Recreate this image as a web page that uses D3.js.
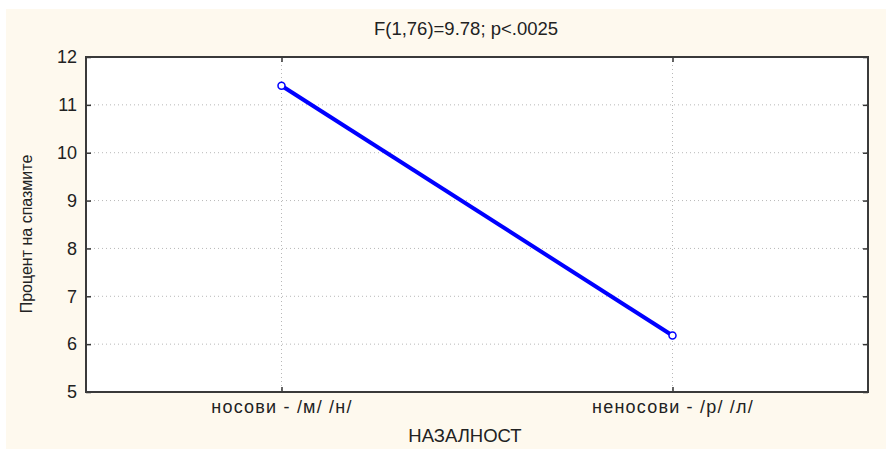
<!DOCTYPE html>
<html>
<head>
<meta charset="utf-8">
<script src="https://cdn.jsdelivr.net/npm/d3@7"></script>
<style>
  body { margin: 0; background: #fff; }
  text { font-family: "Liberation Sans", Arial, sans-serif; fill: #222; }
</style>
</head>
<body>
<div id="my_dataviz"></div>
<script>
// data
var categories = ["носови - /м/ /н/", "неносови - /р/ /л/"];
var values = [11.4, 6.18];
var yTicks = [5, 6, 7, 8, 9, 10, 11, 12];
var title = "F(1,76)=9.78; p<.0025";
var xTitle = "НАЗАЛНОСТ";
var yTitle = "Процент на спазмите";

var W = 886, H = 449;
var margin = {top: 57, right: 18, bottom: 57, left: 86},
    width = W - margin.left - margin.right,
    height = H - margin.top - margin.bottom;

var root = d3.select("#my_dataviz")
  .append("svg")
    .attr("width", W)
    .attr("height", H);

// cream panel behind everything
root.append("rect")
  .attr("x", 6).attr("y", 9)
  .attr("width", W - 6).attr("height", H - 9)
  .attr("fill", "#fef9ee");

var svg = root.append("g")
  .attr("transform", "translate(" + margin.left + "," + margin.top + ")");

svg.append("rect")
  .attr("width", width).attr("height", height)
  .attr("fill", "#fff");

var x = d3.scalePoint()
  .domain(categories)
  .range([0, width])
  .padding(0.5);

var y = d3.scaleLinear()
  .domain([5, 12])
  .range([height, 0]);

// grid
svg.append("g")
  .selectAll("line.hg")
  .data(yTicks.slice(1, -1))
  .enter().append("line")
    .attr("x1", 0).attr("x2", width)
    .attr("y1", function(d) { return y(d); })
    .attr("y2", function(d) { return y(d); })
    .attr("stroke", "#b8b8b8")
    .attr("stroke-dasharray", "1,3");

svg.append("g")
  .selectAll("line.vg")
  .data(categories)
  .enter().append("line")
    .attr("x1", function(d) { return x(d); })
    .attr("x2", function(d) { return x(d); })
    .attr("y1", 0).attr("y2", height)
    .attr("stroke", "#b8b8b8")
    .attr("stroke-dasharray", "1,3");

// axes, ticks pointing inward
var yAxis = svg.append("g")
  .call(d3.axisLeft(y).tickValues(yTicks).tickFormat(d3.format("d")).tickSize(-5).tickPadding(9));
var yAxisR = svg.append("g")
  .attr("transform", "translate(" + width + ",0)")
  .call(d3.axisRight(y).tickValues(yTicks).tickSize(-5).tickFormat(""));
var xAxis = svg.append("g")
  .attr("transform", "translate(0," + height + ")")
  .call(d3.axisBottom(x).tickSize(-5).tickPadding(8));
var xAxisT = svg.append("g")
  .call(d3.axisTop(x).tickSize(-5).tickFormat(""));

[yAxis, yAxisR, xAxis, xAxisT].forEach(function(g) {
  g.select(".domain").remove();
  g.selectAll("line").attr("stroke", "#333").attr("stroke-width", 1.5);
  g.selectAll("text")
    .style("font-family", "'Liberation Sans', Arial, sans-serif")
    .attr("fill", "#222");
});
yAxis.selectAll("text").style("font-size", "18px");
xAxis.selectAll("text")
  .style("font-size", "18px")
  .style("letter-spacing", "1.2px");

// frame
svg.append("rect")
  .attr("width", width).attr("height", height)
  .attr("fill", "none")
  .attr("stroke", "#3a3a3a")
  .attr("stroke-width", 2);

// the line
var pts = categories.map(function(c, i) { return {c: c, v: values[i]}; });
svg.append("path")
  .datum(pts)
  .attr("fill", "none")
  .attr("stroke", "#0000ff")
  .attr("stroke-width", 4)
  .attr("d", d3.line()
    .x(function(d) { return x(d.c); })
    .y(function(d) { return y(d.v); }));

svg.selectAll("circle.pt")
  .data(pts)
  .enter().append("circle")
    .attr("cx", function(d) { return x(d.c); })
    .attr("cy", function(d) { return y(d.v); })
    .attr("r", 3.5)
    .attr("fill", "#fff")
    .attr("stroke", "#0000ff")
    .attr("stroke-width", 1.5);

// labels
root.append("text")
  .attr("x", 466).attr("y", 35)
  .attr("text-anchor", "middle")
  .style("font-size", "18.5px")
  .text(title);

root.append("text")
  .attr("x", 465).attr("y", 442)
  .attr("text-anchor", "middle")
  .style("font-size", "18.5px")
  .text(xTitle);

root.append("text")
  .attr("transform", "translate(32," + 234 + ") rotate(-90)")
  .attr("text-anchor", "middle")
  .style("font-size", "16px")
  .text(yTitle);
</script>
</body>
</html>
